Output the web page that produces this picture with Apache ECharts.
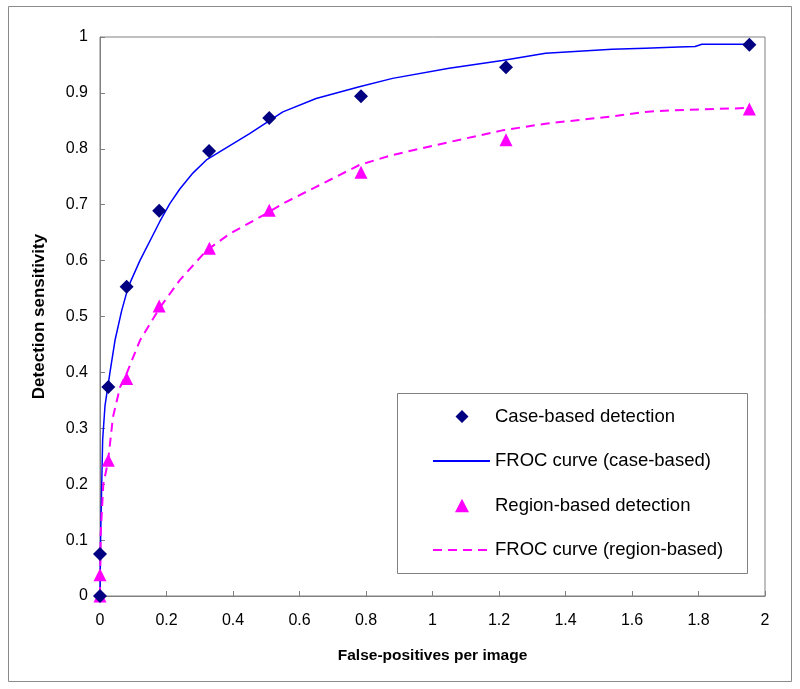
<!DOCTYPE html>
<html>
<head>
<meta charset="utf-8">
<script src="https://cdn.jsdelivr.net/npm/echarts@6/dist/echarts.min.js"></script>
<style>
html,body{margin:0;padding:0;background:#fff;}
#c{width:800px;height:689px;}
</style>
</head>
<body>
<div id="c"></div>
<script>
// Data
var caseX = [0, 0, 0.025, 0.08, 0.178, 0.328, 0.509, 0.785, 1.221, 1.953];
var caseY = [0, 0.075, 0.374, 0.553, 0.689, 0.796, 0.855, 0.894, 0.946, 0.986];
var regionX = [0, 0, 0.025, 0.08, 0.178, 0.329, 0.509, 0.785, 1.221, 1.953];
var regionY = [0, 0.038, 0.243, 0.389, 0.519, 0.622, 0.69, 0.758, 0.816, 0.871];
var caseCurveX = [0, 0.002, 0.008, 0.015, 0.03, 0.045, 0.065, 0.085, 0.12, 0.18, 0.21, 0.24, 0.28, 0.32, 0.45, 0.55, 0.65, 0.78, 0.88, 1.05, 1.21, 1.34, 1.54, 1.64, 1.74, 1.79, 1.81, 1.95];
var caseCurveY = [0, 0.11, 0.28, 0.34, 0.40, 0.457, 0.51, 0.553, 0.60, 0.67, 0.702, 0.728, 0.757, 0.78, 0.827, 0.866, 0.89, 0.911, 0.926, 0.944, 0.958, 0.971, 0.978, 0.98, 0.982, 0.983, 0.987, 0.987];
var regionCurveX = [0, 0.002, 0.01, 0.024, 0.039, 0.06, 0.08, 0.12, 0.18, 0.24, 0.32, 0.39, 0.5, 0.55, 0.65, 0.78, 0.88, 1.05, 1.21, 1.34, 1.54, 1.64, 1.72, 1.95];
var regionCurveY = [0, 0.11, 0.2, 0.24, 0.32, 0.373, 0.398, 0.457, 0.516, 0.565, 0.618, 0.648, 0.684, 0.702, 0.732, 0.771, 0.789, 0.812, 0.833, 0.845, 0.858, 0.866, 0.869, 0.873];
var seriesNames = ['Case-based detection', 'FROC curve (case-based)', 'Region-based detection', 'FROC curve (region-based)'];
var xTitle = 'False-positives per image';
var yTitle = 'Detection sensitivity';

function zip(a, b) { return a.map(function (v, i) { return [v, b[i]]; }); }

var font = 'Liberation Sans, Arial, sans-serif';
var hidden = {color: 'rgba(0,0,0,0)', opacity: 0, borderWidth: 0};
// legend icon shapes inside a 57x14 box (zero-area corner anchors keep the box size)
var boxAnchors = 'M0,0 L0.001,0 Z M57,14 L56.999,14 Z ';
var diamondIcon = 'path://' + boxAnchors + 'M22.5,7 L29,0.5 L35.5,7 L29,13.5 Z';
var triangleIcon = 'path://' + boxAnchors + 'M22,13.8 L29,0.3 L36,13.8 Z';

var chart = echarts.init(document.getElementById('c'), null, {renderer: 'canvas'});
chart.setOption({
  animation: false,
  backgroundColor: '#fff',
  grid: {left: 100, top: 37, right: 35, bottom: 93, show: true, borderColor: '#808080', borderWidth: 1},
  xAxis: {
    type: 'value', min: 0, max: 2, interval: 0.2,
    name: xTitle, nameLocation: 'middle', nameGap: 52,
    nameTextStyle: {fontFamily: font, fontSize: 15.5, fontWeight: 'bold', color: '#000'},
    axisLine: {show: true, lineStyle: {color: '#808080'}},
    axisTick: {show: true, inside: true, length: 5, lineStyle: {color: '#808080'}},
    axisLabel: {fontFamily: font, fontSize: 16, color: '#000', margin: 17},
    splitLine: {show: false}
  },
  yAxis: {
    type: 'value', min: 0, max: 1, interval: 0.1,
    name: yTitle, nameLocation: 'middle', nameGap: 52, nameRotate: 90,
    nameTextStyle: {fontFamily: font, fontSize: 17, fontWeight: 'bold', color: '#000'},
    axisLine: {show: true, lineStyle: {color: '#808080'}},
    axisTick: {show: true, inside: true, length: 5, lineStyle: {color: '#808080'}},
    axisLabel: {fontFamily: font, fontSize: 16, color: '#000', margin: 12},
    splitLine: {show: false}
  },
  legend: {
    orient: 'vertical', left: 432, top: 407, padding: 0,
    itemWidth: 57, itemHeight: 14, itemGap: 25.5,
    textStyle: {fontFamily: font, fontSize: 18.5, color: '#000'},
    data: [
      {name: seriesNames[0], icon: diamondIcon},
      {name: seriesNames[1], itemStyle: hidden},
      {name: seriesNames[2], icon: triangleIcon},
      {name: seriesNames[3], itemStyle: hidden}
    ]
  },
  graphic: [
    {type: 'rect', shape: {x: 8.5, y: 6.5, width: 783, height: 675}, style: {fill: 'none', stroke: '#8a8a8a', lineWidth: 1}, silent: true},
    {type: 'rect', shape: {x: 397.5, y: 393.5, width: 350, height: 180}, style: {fill: 'none', stroke: '#808080', lineWidth: 1}, silent: true, z: 10}
  ],
  series: [
    {name: seriesNames[1], type: 'line', data: zip(caseCurveX, caseCurveY), showSymbol: false, symbol: 'none',
     lineStyle: {color: '#0000FF', width: 1.5}, itemStyle: {color: '#0000FF'}, z: 2},
    {name: seriesNames[3], type: 'line', data: zip(regionCurveX, regionCurveY), showSymbol: false, symbol: 'none',
     lineStyle: {color: '#FF00FF', width: 2, type: [9, 6]}, itemStyle: {color: '#FF00FF'}, z: 2},
    {name: seriesNames[0], type: 'scatter', data: zip(caseX, caseY), symbol: 'diamond', symbolSize: 14,
     itemStyle: {color: '#000080', opacity: 1}, z: 4},
    {name: seriesNames[2], type: 'scatter', data: zip(regionX, regionY), symbol: 'triangle', symbolSize: 13,
     itemStyle: {color: '#FF00FF', opacity: 1}, z: 3}
  ]
});
</script>
</body>
</html>
